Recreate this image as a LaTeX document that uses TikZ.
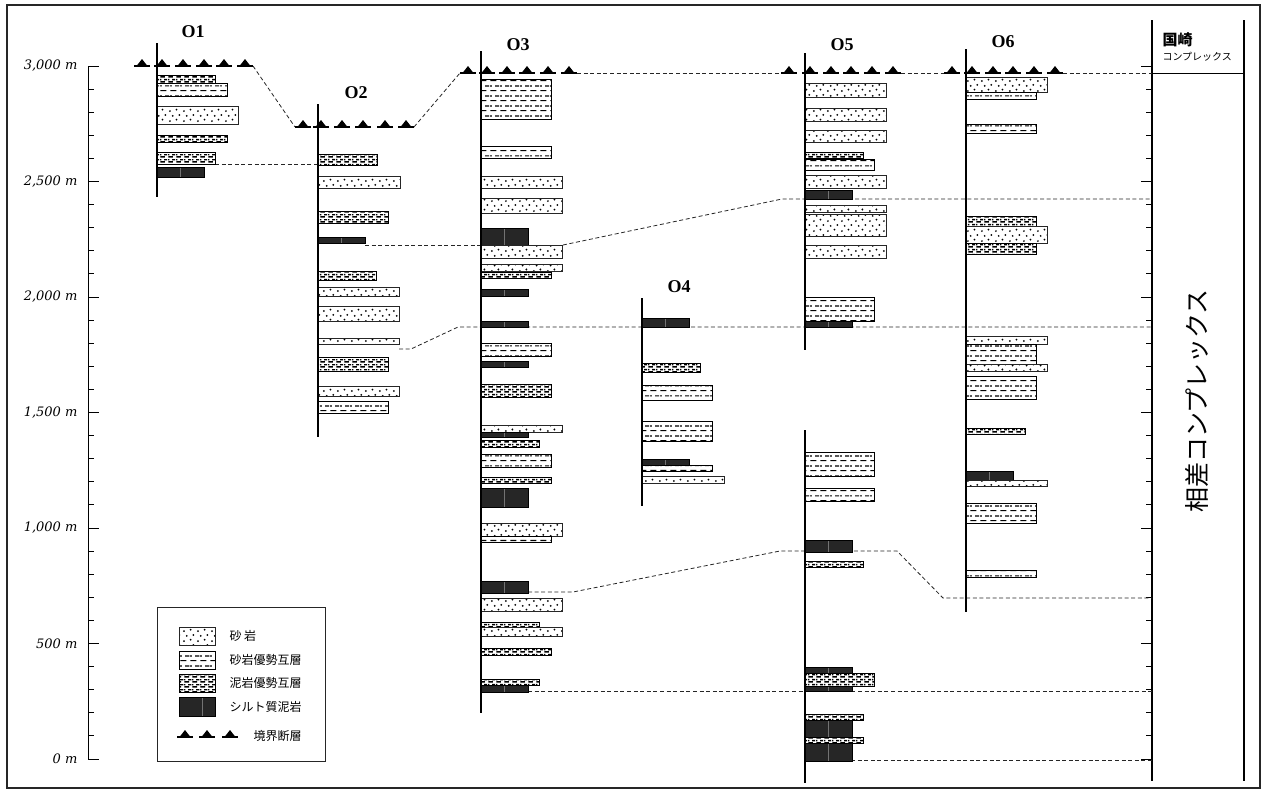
\documentclass[tikz,border=0pt]{standalone}
\usepackage{fontspec}
\setmainfont{Liberation Serif}
\newfontfamily\axisfont{DejaVu Serif}
\newfontfamily\jpfont{Noto Sans CJK JP}
\usetikzlibrary{patterns}

% sandstone: scattered dots
\pgfdeclarepatternformonly{sanddots}{\pgfpointorigin}{\pgfqpoint{14pt}{10pt}}{\pgfqpoint{14pt}{10pt}}{%
  \pgfpathcircle{\pgfqpoint{2pt}{2pt}}{1.05pt}%
  \pgfpathcircle{\pgfqpoint{9pt}{3.5pt}}{1.05pt}%
  \pgfpathcircle{\pgfqpoint{5pt}{7.5pt}}{1.05pt}%
  \pgfpathcircle{\pgfqpoint{12pt}{8.5pt}}{1.05pt}%
  \pgfusepath{fill}}
% sandstone-dominant alternation: staggered rows of dashes
\pgfdeclarepatternformonly{sdash}{\pgfpointorigin}{\pgfqpoint{10pt}{10pt}}{\pgfqpoint{10pt}{10pt}}{%
  \pgfsetlinewidth{1.2pt}%
  \pgfpathmoveto{\pgfqpoint{0.5pt}{2.5pt}}\pgfpathlineto{\pgfqpoint{7pt}{2.5pt}}%
  \pgfpathmoveto{\pgfqpoint{5.5pt}{7.5pt}}\pgfpathlineto{\pgfqpoint{10pt}{7.5pt}}%
  \pgfpathmoveto{\pgfqpoint{0pt}{7.5pt}}\pgfpathlineto{\pgfqpoint{2pt}{7.5pt}}%
  \pgfusepath{stroke}}
% mudstone-dominant alternation: dense rows of dashes
\pgfdeclarepatternformonly{mdash}{\pgfpointorigin}{\pgfqpoint{8pt}{5pt}}{\pgfqpoint{8pt}{5pt}}{%
  \pgfsetlinewidth{1.6pt}%
  \pgfpathmoveto{\pgfqpoint{0.5pt}{1.2pt}}\pgfpathlineto{\pgfqpoint{5.5pt}{1.2pt}}%
  \pgfpathmoveto{\pgfqpoint{4.5pt}{3.7pt}}\pgfpathlineto{\pgfqpoint{8pt}{3.7pt}}%
  \pgfpathmoveto{\pgfqpoint{0pt}{3.7pt}}\pgfpathlineto{\pgfqpoint{1.5pt}{3.7pt}}%
  \pgfusepath{stroke}}

% one bed of the current column: type, top, bottom, width
\newcommand\stratum[4]{\draw[#1] (\colx,#2) rectangle (\colx+#4,#3);}
% thrust mark: a short thick dash with a triangle on it
\newcommand\faultmark[2]{%
  \draw[line width=2.4] (#1-8,#2) -- (#1+8,#2);
  \fill (#1-5.5,#2) -- (#1,#2-7) -- (#1+5.5,#2) -- cycle;}

\begin{document}
\begin{tikzpicture}[x=1pt,y=-1pt,
  sandst/.style={preaction={fill=white}, pattern=sanddots, draw=black!85, line width=0.9},
  sanddom/.style={preaction={fill=white}, pattern=sdash, draw=black, line width=0.9},
  muddom/.style={preaction={fill=white}, pattern=mdash, draw=black, line width=0.9},
  siltst/.style={fill=black!85, draw=black, line width=0.7,
    path picture={\draw[black!55, line width=0.5]
      ([xshift=23pt]path picture bounding box.north west) --
      ([xshift=23pt]path picture bounding box.south west);}},
  corr/.style={black!85, line width=0.8, dash pattern=on 4pt off 2.6pt},
  colline/.style={line width=2.5},
  colname/.style={font=\bfseries\fontsize{18}{18}\selectfont},
  depth/.style={anchor=east, font=\axisfont\itshape\fontsize{13}{13}\selectfont},
  leg/.style={anchor=west, font=\jpfont\fontsize{12}{12}\selectfont}]

\useasboundingbox (0,0) rectangle (1267,793);
\draw[line width=1.2, black!85] (7,5) rectangle (1260,788);

% depth scale on the left
\draw[line width=1] (88,66) -- (88,759);
\foreach \m in {0,...,30} {\draw[line width=1] (88,759-23.1*\m) -- (94,759-23.1*\m);}
\foreach \m in {0,5,...,30} {\draw[line width=1] (88,759-23.1*\m) -- (99,759-23.1*\m);}
\node[depth] (d3000) at (81,66) {3,000 m};
\node[depth] (d2500) at (81,181.5) {2,500 m};
\node[depth] (d2000) at (81,297) {2,000 m};
\node[depth] (d1500) at (81,412.5) {1,500 m};
\node[depth] (d1000) at (81,528) {1,000 m};
\node[depth] (d500) at (81,643.5) {500 m};
\node[depth] (d0) at (81,759) {0 m};

% scale and complex names on the right
\draw[line width=1.2] (1152,20) -- (1152,781);
\draw[line width=1.2] (1244,20) -- (1244,781);
\draw[line width=1] (1152,73) -- (1244,73);
\foreach \m in {0,...,30} {\draw[line width=1] (1146,759-23.1*\m) -- (1152,759-23.1*\m);}
\foreach \m in {0,5,...,30} {\draw[line width=1] (1141,759-23.1*\m) -- (1152,759-23.1*\m);}
\node[anchor=west, font=\jpfont\bfseries\fontsize{15}{15}\selectfont] (kunisaki) at (1159,40) {国崎};
\node[anchor=west, font=\jpfont\fontsize{10}{10}\selectfont] (kunisakic) at (1159,57) {コンプレックス};
\node[rotate=90, font=\jpfont\fontsize{25}{25}\selectfont] (aisa) at (1197,401) {相差コンプレックス};

% correlation lines
\draw[corr] (253,66) -- (295,127);
\draw[corr] (414,127) -- (460,73);
\draw[corr] (577,73) -- (781,73);
\draw[corr] (901,73) -- (944,73);
\draw[corr] (1063,73) -- (1152,73);
\draw[corr] (215,164) -- (318,164);
\draw[corr] (365,245) -- (481,245);
\draw[corr] (563,245) -- (782,199) -- (1152,199);
\draw[corr] (399,349) -- (411,349) -- (458,327) -- (1152,327);
\draw[corr] (528,592) -- (573,592) -- (780,551) -- (897,551) -- (943,598) -- (1152,598);
\draw[corr] (528,691) -- (1152,691);
\draw[corr] (851,760) -- (1152,760);

% boundary faults
\foreach \t in {142,162,183,204,224,245} {\faultmark{\t}{66}}
\foreach \t in {303,321,342,363,385,406} {\faultmark{\t}{127}}
\foreach \t in {468,487,507,527,548,569} {\faultmark{\t}{73}}
\foreach \t in {789,810,831,851,872,893} {\faultmark{\t}{73}}
\foreach \t in {952,972,993,1013,1034,1055} {\faultmark{\t}{73}}

% column O1
\def\colx{157}
\stratum{muddom}{75}{83}{58}
\stratum{sanddom}{83}{96}{70}
\stratum{sandst}{106}{124}{81}
\stratum{muddom}{135}{142}{70}
\stratum{muddom}{152}{164}{58}
\stratum{siltst}{167}{177}{47}
\draw[colline] (157,43) -- (157,197);
\node[colname] (o1) at (193,32) {O1};

% column O2
\def\colx{318}
\stratum{muddom}{154}{165}{59}
\stratum{sandst}{176}{188}{82}
\stratum{muddom}{211}{223}{70}
\stratum{siltst}{237}{243}{47}
\stratum{muddom}{271}{280}{58}
\stratum{sandst}{287}{296}{81}
\stratum{sandst}{306}{321}{81}
\stratum{sandst}{338}{344}{81}
\stratum{muddom}{357}{371}{70}
\stratum{sandst}{386}{396}{81}
\stratum{sanddom}{401}{413}{70}
\draw[colline] (318,104) -- (318,437);
\node[colname] (o2) at (356,93) {O2};

% column O3
\def\colx{481}
\stratum{sanddom}{79}{119}{70}
\stratum{sanddom}{146}{158}{70}
\stratum{sandst}{176}{188}{81}
\stratum{sandst}{198}{213}{81}
\stratum{siltst}{228}{245}{47}
\stratum{sandst}{245}{258}{81}
\stratum{sandst}{264}{271}{81}
\stratum{muddom}{272}{278}{70}
\stratum{siltst}{289}{296}{47}
\stratum{siltst}{321}{327}{47}
\stratum{sanddom}{343}{356}{70}
\stratum{siltst}{361}{367}{47}
\stratum{muddom}{384}{397}{70}
\stratum{sandst}{425}{432}{81}
\stratum{siltst}{432}{437}{47}
\stratum{muddom}{440}{447}{58}
\stratum{sanddom}{454}{467}{70}
\stratum{muddom}{477}{483}{70}
\stratum{siltst}{488}{507}{47}
\stratum{sandst}{523}{536}{81}
\stratum{sanddom}{536}{542}{70}
\stratum{siltst}{581}{593}{47}
\stratum{sandst}{598}{611}{81}
\stratum{muddom}{622}{627}{58}
\stratum{sandst}{627}{636}{81}
\stratum{muddom}{648}{655}{70}
\stratum{muddom}{679}{685}{58}
\stratum{siltst}{685}{692}{47}
\draw[colline] (481,51) -- (481,713);
\node[colname] (o3) at (518,45) {O3};

% column O4
\def\colx{642}
\stratum{siltst}{318}{327}{47}
\stratum{muddom}{363}{372}{58}
\stratum{sanddom}{385}{400}{70}
\stratum{sanddom}{421}{441}{70}
\stratum{siltst}{459}{465}{47}
\stratum{sanddom}{465}{471}{70}
\stratum{sandst}{476}{483}{82}
\draw[colline] (642,298) -- (642,506);
\node[colname] (o4) at (679,287) {O4};

% column O5
\def\colx{805}
\stratum{sandst}{83}{97}{81}
\stratum{sandst}{108}{121}{81}
\stratum{sandst}{130}{142}{81}
\stratum{muddom}{152}{158}{58}
\stratum{sanddom}{159}{170}{69}
\stratum{sandst}{175}{188}{81}
\stratum{siltst}{190}{199}{47}
\stratum{sandst}{205}{212}{81}
\stratum{sandst}{214}{236}{81}
\stratum{sandst}{245}{258}{81}
\stratum{sanddom}{297}{321}{69}
\stratum{siltst}{321}{327}{47}
\stratum{sanddom}{452}{476}{69}
\stratum{sanddom}{488}{501}{69}
\stratum{siltst}{540}{552}{47}
\stratum{muddom}{561}{567}{58}
\stratum{siltst}{667}{691}{47}
\stratum{muddom}{673}{686}{69}
\stratum{muddom}{714}{720}{58}
\stratum{siltst}{720}{737}{47}
\stratum{muddom}{737}{743}{58}
\stratum{siltst}{743}{761}{47}
\draw[colline] (805,53) -- (805,350);
\draw[colline] (805,430) -- (805,783);
\node[colname] (o5) at (842,45) {O5};

% column O6
\def\colx{966}
\stratum{sandst}{77}{92}{81}
\stratum{sanddom}{92}{99}{70}
\stratum{sanddom}{124}{133}{70}
\stratum{muddom}{216}{226}{70}
\stratum{sandst}{226}{243}{81}
\stratum{muddom}{243}{254}{70}
\stratum{sandst}{336}{344}{81}
\stratum{sanddom}{344}{364}{70}
\stratum{sandst}{364}{371}{81}
\stratum{sanddom}{376}{399}{70}
\stratum{muddom}{428}{434}{59}
\stratum{siltst}{471}{480}{47}
\stratum{sandst}{480}{486}{81}
\stratum{sanddom}{503}{523}{70}
\stratum{sanddom}{570}{577}{70}
\draw[colline] (966,49) -- (966,612);
\node[colname] (o6) at (1003,42) {O6};

% legend
\draw[line width=1, black!85] (157,607) rectangle (325,761);
\draw[sandst] (179,627) rectangle (215,645);
\draw[sanddom] (179,651) rectangle (215,669);
\draw[muddom] (179,674) rectangle (215,692);
\draw[siltst] (179,697) rectangle (215,716);
\node[leg] (lsand) at (226,636) {砂 岩};
\node[leg] (lsdom) at (226,660) {砂岩優勢互層};
\node[leg] (lmdom) at (226,683) {泥岩優勢互層};
\node[leg] (lsilt) at (226,707) {シルト質泥岩};
\foreach \t in {185,207,230} {\faultmark{\t}{737}}
\node[leg] (lfault) at (250,736) {境界断層};
\end{tikzpicture}
\end{document}
